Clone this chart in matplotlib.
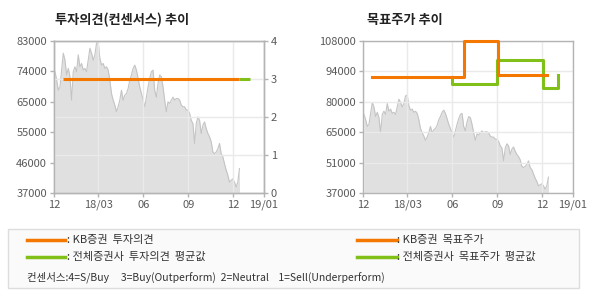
import numpy as np
import pandas as pd
import matplotlib
matplotlib.use('Agg')
from matplotlib import pyplot as plt
from matplotlib.patches import Rectangle

plt.rcParams['font.family'] = ['Noto Sans CJK KR', 'DejaVu Sans']

# 주가 (roughly every 3-4 days)
price = [73700, 71200, 68100, 69100, 74200, 79300, 77200, 72700, 74700, 72200,
         65100, 73700, 75200, 73700, 78800, 75200, 76200, 74200, 74700, 73700,
         77200, 80800, 79300, 77200, 78800, 82300, 82800, 77700, 75700, 76200,
         74700, 75200, 74200, 71200, 67100, 65100, 63600, 61600, 63100, 65100,
         68100, 65100, 66600, 67100, 68600, 71200, 72700, 74700, 75700, 74200,
         71700, 69100, 67100, 65100, 63100, 66000, 69100, 71700, 73700, 74200,
         68100, 66000, 70200, 72700, 72200, 69100, 65100, 61600, 64600, 64100,
         65100, 66000, 65100, 65600, 65600, 65100, 63600, 63100, 63100, 62100,
         62100, 61100, 59000, 58000, 52000, 58000, 60000, 59000, 55000, 57500,
         58500, 56500, 55000, 54000, 52500, 49400, 48900, 49400, 50400, 52000,
         48900, 47900, 45900, 43900, 42400, 40300, 40800, 41300, 40300, 38800,
         40300, 44400]
price_dates = pd.date_range('2017-12-03', '2018-12-14', periods=len(price))

# 투자의견
kb_op_dates = pd.to_datetime(['2017-12-20', '2018-12-13'])
kb_op = [3, 3]
cons_op_dates = pd.to_datetime(['2018-12-13', '2019-01-04'])
cons_op = [3, 3]

# 목표주가
kb_tp_dates = pd.to_datetime(['2017-12-19', '2018-06-24', '2018-09-03', '2018-12-12'])
kb_tp = [91000, 108000, 92000, 92000]
cons_tp_dates = pd.to_datetime(['2018-06-01', '2018-06-01', '2018-09-01', '2018-12-03', '2019-01-03'])
cons_tp = [91000, 88000, 99000, 86000, 92000]

x_ticks = pd.to_datetime(['2017-12-01', '2018-03-01', '2018-06-01', '2018-09-01', '2018-12-01', '2019-02-02'])
x_labels = ['12', '18/03', '06', '09', '12', '19/01']
left_yticklabels = ['37000', '46000', '55000', '65000', '74000', '83000']
right_yticklabels = ['37000', '51000', '65000', '80000', '94000', '108000']

orange = '#f47800'
green = '#80c018'
spine_c = '#b4b4b4'
grid_c = '#eaeaea'
tick_c = '#5a5a5a'

fig = plt.figure(figsize=(5.9, 3.0), dpi=100)


def style(ax):
    for s in ax.spines.values():
        s.set_color(spine_c)
        s.set_linewidth(1)
    ax.tick_params(colors=spine_c, labelcolor=tick_c, labelsize=8, length=3, width=1, pad=2)


# ---- 투자의견 chart
ax1 = fig.add_axes([54 / 590, 107 / 300, 210 / 590, 152 / 300])
ax1.fill_between(price_dates, price, 37000, color='#e0e0e0', lw=0, zorder=1)
ax1.plot(price_dates, price, color='#c4c4c4', lw=0.8, zorder=1.2)
ax1.set_ylim(37000, 83000)
ax1.set_yticks(np.linspace(37000, 83000, 6))
ax1.set_yticklabels(left_yticklabels)
ax1.set_xlim(x_ticks[0], x_ticks[-1])
ax1.set_xticks(x_ticks)
ax1.set_xticklabels(x_labels)
ax1.xaxis.grid(True, color=grid_c, lw=1)
style(ax1)

ax1b = ax1.twinx()
ax1b.set_ylim(0, 4)
ax1b.set_yticks([0, 1, 2, 3, 4])
ax1b.yaxis.grid(True, color=grid_c, lw=1, zorder=1.5)
ax1b.plot(kb_op_dates, kb_op, color=orange, lw=2.2, solid_capstyle='butt', zorder=3)
ax1b.plot(cons_op_dates, cons_op, color=green, lw=2.2, solid_capstyle='butt', zorder=3)
style(ax1b)

# ---- 목표주가 chart
ax2 = fig.add_axes([363 / 590, 107 / 300, 210 / 590, 152 / 300])
ax2.fill_between(price_dates, price, 37000, color='#e0e0e0', lw=0, zorder=1)
ax2.plot(price_dates, price, color='#c4c4c4', lw=0.8, zorder=1.2)
ax2.set_ylim(37000, 108000)
ax2.set_yticks(np.linspace(37000, 108000, 6))
ax2.set_yticklabels(right_yticklabels)
ax2.set_xlim(x_ticks[0], x_ticks[-1])
ax2.set_xticks(x_ticks)
ax2.set_xticklabels(x_labels)
ax2.grid(True, color=grid_c, lw=1)
ax2.plot(kb_tp_dates, kb_tp, color=orange, lw=2.2, drawstyle='steps-post', zorder=4, clip_on=False)
ax2.plot(cons_tp_dates, cons_tp, color=green, lw=2.2, drawstyle='steps-post', zorder=3)
style(ax2)

# titles
fig.text(55 / 590, 1 - 20 / 300, '투자의견(컨센서스) 추이', fontsize=9.5, fontweight='bold', color='#222222', va='center')
fig.text(367 / 590, 1 - 20 / 300, '목표주가 추이', fontsize=9.5, fontweight='bold', color='#222222', va='center')

# legend box
fig.patches.append(Rectangle((8 / 590, 1 - 288 / 300), 571 / 590, 59 / 300, transform=fig.transFigure,
                             facecolor='#fafafa', edgecolor='#dddddd', lw=1))
rows = [(240, orange, ': KB증권  투자의견', ': KB증권  목표주가'),
        (257, green, ': 전체증권사  투자의견  평균값', ': 전체증권사  목표주가  평균값')]
for y, c, t1, t2 in rows:
    yy = 1 - y / 300
    fig.add_artist(plt.Line2D([27 / 590, 65 / 590], [yy, yy], color=c, lw=2.5, transform=fig.transFigure))
    fig.text(67 / 590, yy, t1, fontsize=8, color='#333333', va='center')
    fig.add_artist(plt.Line2D([357 / 590, 397 / 590], [yy, yy], color=c, lw=2.5, transform=fig.transFigure))
    fig.text(397 / 590, yy, t2, fontsize=8, color='#333333', va='center')
fig.text(27 / 590, 1 - 277 / 300, '컨센서스:4=S/Buy     3=Buy(Outperform)  2=Neutral    1=Sell(Underperform)',
         fontsize=7.5, color='#333333', va='center')

fig.savefig('out.png', dpi=100)
